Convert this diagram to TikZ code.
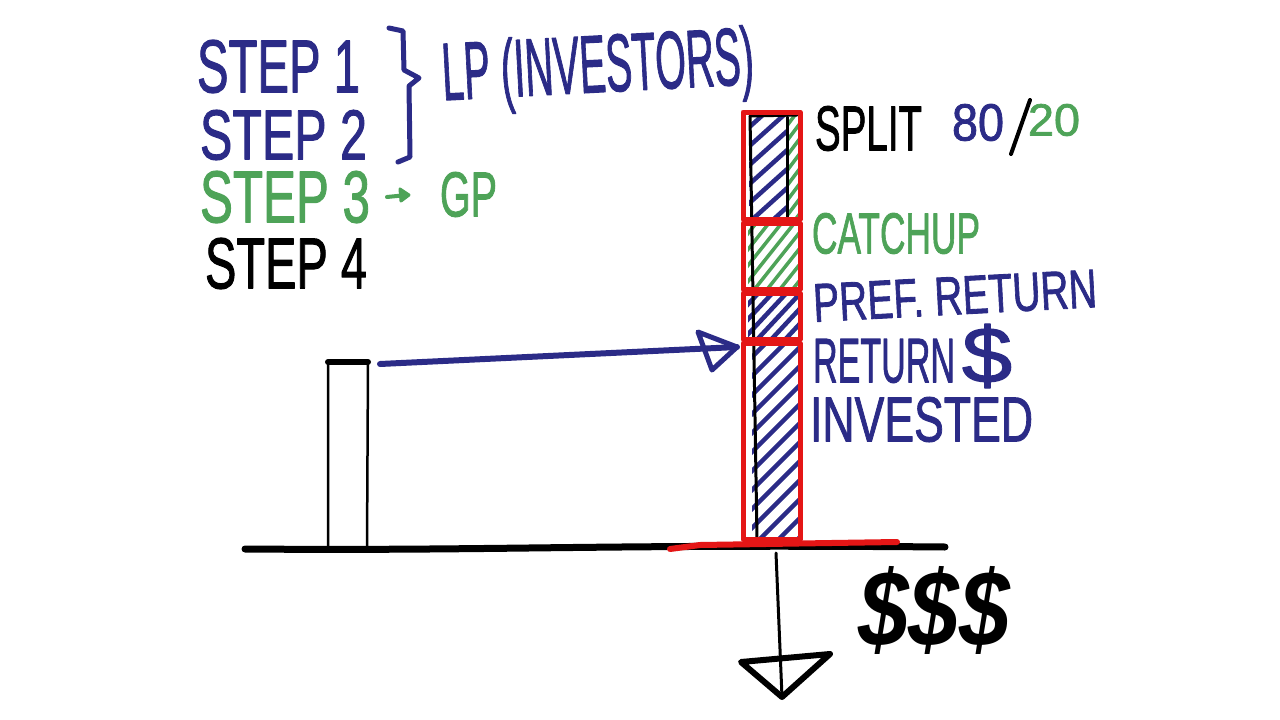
\documentclass[tikz,border=0pt]{standalone}
\usepackage{fontspec}
\setmainfont{Liberation Sans}
\newfontfamily\mk{Liberation Sans}[FakeBold=1.6]
\usepackage{graphicx}
\definecolor{navy}{RGB}{43,43,135}
\definecolor{mgreen}{RGB}{78,163,88}
\definecolor{mred}{RGB}{228,22,22}
\newcommand{\hw}[3]{\resizebox*{#1pt}{#2pt}{\mk #3}}
\begin{document}
\begin{tikzpicture}[x=1pt,y=-1pt,line cap=round,line join=round,
  lbl/.style={inner sep=0pt,outer sep=0pt,anchor=north west},
  redline/.style={draw=mred,line width=5pt},
  navyhatch/.style={navy,line width=4.5pt},
  greenhatch/.style={mgreen,line width=3.5pt},
  pen/.style={line width=3pt}]
\useasboundingbox[fill=white] (0,0) rectangle (1280,720);

% ---- left column of texts
\node[lbl,navy] (s1) at (197,40) {\hw{163}{53}{STEP 1}};
\node[lbl,navy] (s2) at (200,110) {\hw{167}{50}{STEP 2}};
\node[lbl,mgreen] (s3) at (200,171) {\hw{170}{52}{STEP 3}};
\draw[mgreen,line width=4pt] (387,197) -- (407,195);
\draw[mgreen,line width=3pt,fill=mgreen] (409,195) -- (400,189) -- (401,201) -- cycle;
\node[lbl,mgreen] (gp) at (440,172) {\hw{57}{45}{GP}};
\node[lbl] (s4) at (205,238) {\hw{162}{51}{STEP 4}};
\draw[navy,line width=5pt] (389,28) -- (403,31) -- (404,70) -- (419,78) -- (409,86) -- (410,157) -- (398,162);
\node[navy,inner sep=0pt,rotate=3] (lp) at (598,71) {\resizebox*{312pt}{76pt}{\mk LP (INVESTORS)}};

% ---- hatching of the stacked bar
\begin{scope}
  \clip (749,116) rectangle (787,217);
  \foreach \k in {0,19,...,200} \draw[navyhatch] (735,121+\k) -- ++(70,-63);
\end{scope}
\begin{scope}
  \clip (787,116) rectangle (798,217);
  \foreach \k in {0,15,...,170} \draw[greenhatch] (777,124+\k) -- ++(30,-40);
\end{scope}
\begin{scope}
  \clip (748,224) rectangle (798,288);
  \foreach \k in {0,16,...,150} \draw[greenhatch] (738,230+\k) -- ++(70,-88);
\end{scope}
\begin{scope}
  \clip (748,294) rectangle (798,337);
  \foreach \k in {0,15,...,120} \draw[navyhatch] (738,300+\k) -- ++(70,-75);
\end{scope}
\begin{scope}
  \clip (752,343) rectangle (798,537);
  \foreach \k in {0,19,...,280} \draw[navyhatch] (742,348+\k) -- ++(70,-70);
\end{scope}
% black inner lines
\draw[pen] (750,116) -- (797,115);
\draw[pen] (750,116) -- (757,538);
\draw[pen] (787,117) -- (787,217);

% red outline segments
\draw[redline] (743,112) rectangle (800,219);
\draw[redline] (743,223) rectangle (800,289);
\draw[redline] (743,293) rectangle (800,339);
\draw[redline] (743,343) rectangle (800,539);

% ---- ground
\draw[line width=7pt] (245,549) .. controls (500,551) and (600,544) .. (945,547);
\draw[mred,line width=6pt] (670,549) -- (700,545) -- (897,542);

% ---- small bar
\draw[line width=2.5pt] (328,548) -- (328,362) -- (368,362) -- (367,548);
\draw[line width=6pt] (328,362) -- (368,362);

% ---- arrow from small bar to stack
\coordinate (aS) at (380,364);
\coordinate (aE) at (737,347);
\draw[navy,line width=6pt] (aS) -- (aE);
\draw[navy,line width=5pt] (aE) -- (698,332) -- (712,370) -- cycle;

% ---- arrow down
\coordinate (dS) at (776,553);
\coordinate (dE) at (782,697);
\draw[line width=3pt] (dS) -- (dE);
\draw[line width=6pt] (dE) -- (741,662) -- (830,654) -- cycle;
\node[lbl] (dol) at (858,566) {\resizebox*{152pt}{88pt}{\bfseries\itshape \$\$\$}};

% ---- right labels
\node[lbl] (split) at (815,106) {\hw{107}{45}{SPLIT}};
\node[lbl,navy] (p80) at (952,104) {\hw{52}{37}{80}};
\node[lbl,mgreen] (p20) at (1028,104) {\hw{52}{32}{20}};
\draw[line width=4pt] (1030,100) -- (1011,154);
\node[lbl,mgreen] (catch) at (812,213) {\hw{168}{41}{CATCHUP}};
\node[navy,inner sep=0pt,rotate=3] (pref) at (955,296) {\hw{284}{38}{PREF. RETURN}};
\node[lbl,navy] (ret) at (813,339) {\hw{142}{44}{RETURN}};
\node[lbl,navy] (retd) at (962,324) {\resizebox*{50pt}{64pt}{\mk\$}};
\node[lbl,navy] (inv) at (810,397) {\hw{223}{45}{INVESTED}};
\end{tikzpicture}
\end{document}
